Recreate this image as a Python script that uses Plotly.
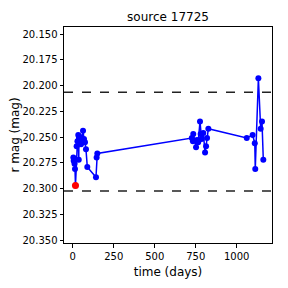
import plotly.graph_objects as go

# ---- data ----
days = [4, 6, 11, 14, 17, 24, 29, 34, 37, 38, 43, 46, 51, 63, 69, 75, 81, 89, 142, 146, 150,
        726, 733, 735, 752, 758, 765, 776, 780, 786, 796, 807, 813, 819, 827,
        1061, 1097, 1110, 1113, 1132, 1146, 1154, 1162]
mags = [20.270, 20.273, 20.276, 20.281, 20.297, 20.259, 20.254, 20.248, 20.272, 20.251, 20.254,
        20.250, 20.257, 20.244, 20.252, 20.255, 20.262, 20.279, 20.289, 20.270, 20.266,
        20.251, 20.254, 20.247, 20.260, 20.253, 20.255, 20.235, 20.247, 20.252, 20.246,
        20.265, 20.259, 20.251, 20.242,
        20.251, 20.248, 20.256, 20.281, 20.193, 20.242, 20.235, 20.272]
flag_day = [17]
flag_mag = [20.297]
upper_line = 20.2065
lower_line = 20.3025
title_text = "source 17725"
xtick_vals = [0, 250, 500, 750, 1000]
ytick_vals = [20.150, 20.175, 20.200, 20.225, 20.250, 20.275, 20.300, 20.325, 20.350]

fig = go.Figure()
fig.add_trace(go.Scatter(x=days, y=mags, mode="lines+markers",
                         line=dict(color="blue", width=1.5),
                         marker=dict(color="blue", size=6), showlegend=False))
fig.add_trace(go.Scatter(x=flag_day, y=flag_mag, mode="markers",
                         marker=dict(color="red", size=7), showlegend=False))
for yv in (upper_line, lower_line):
    fig.add_hline(y=yv, line=dict(color="#222222", width=1.5, dash="dash"))

font = "DejaVu Sans"
fig.update_layout(
    width=288, height=288,
    margin=dict(l=56, r=24, t=19, b=53),
    paper_bgcolor="white", plot_bgcolor="white",
    font=dict(family=font, size=10, color="black"),
    title=dict(text=title_text, x=(56 + 104) / 288, xanchor="center", y=1 - 9/288, yanchor="middle",
               font=dict(family=font, size=12, color="black")),
)
fig.update_xaxes(range=[-53, 1215], tickvals=xtick_vals, ticks="outside", ticklen=3.5,
                 tickcolor="black", showline=True, linecolor="black", linewidth=1, mirror=True,
                 showgrid=False, zeroline=False, automargin=False,
                 title=dict(text="time (days)", font=dict(family=font, size=12), standoff=7))
fig.update_yaxes(range=[20.3529, 20.1432], tickvals=ytick_vals, tickformat=".3f",
                 ticks="outside", ticklen=3.5, tickcolor="black", showline=True,
                 linecolor="black", linewidth=1, mirror=True, showgrid=False, zeroline=False,
                 automargin=False,
                 title=dict(text="r mag (mag)", font=dict(family=font, size=12), standoff=5))
fig.write_html("out.html")
